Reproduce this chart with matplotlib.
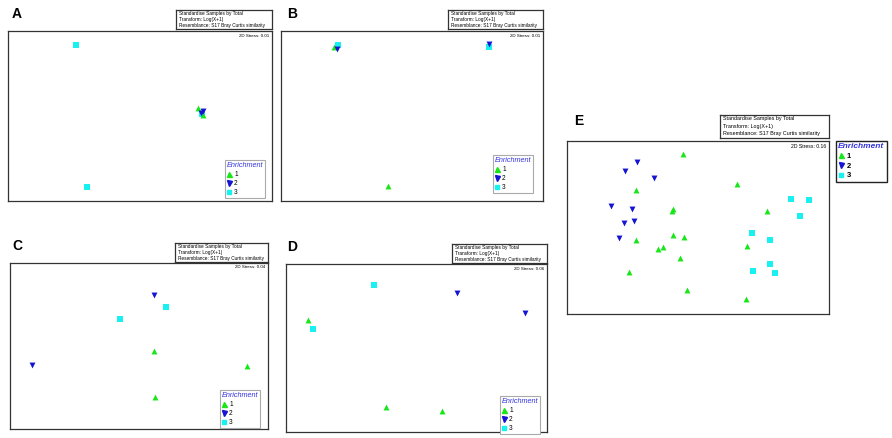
import numpy as np
import matplotlib.pyplot as plt
from matplotlib.lines import Line2D

plt.rcParams["font.family"] = ["Liberation Sans", "DejaVu Sans"]

# NMDS ordination coordinates (scaled 0-1 within each plot box), per enrichment group
a_x1 = [0.720, 0.739]; a_y1 = [0.547, 0.506]
a_x2 = [0.731, 0.739]; a_y2 = [0.518, 0.529]
a_x3 = [0.258, 0.299, 0.735]; a_y3 = [0.918, 0.082, 0.512]

b_x1 = [0.202, 0.408]; b_y1 = [0.906, 0.088]
b_x2 = [0.214, 0.794]; b_y2 = [0.894, 0.924]
b_x3 = [0.218, 0.794]; b_y3 = [0.918, 0.906]

c_x1 = [0.558, 0.919, 0.562]; c_y1 = [0.470, 0.380, 0.193]
c_x2 = [0.558, 0.085]; c_y2 = [0.807, 0.386]
c_x3 = [0.605, 0.426]; c_y3 = [0.735, 0.663]

d_x1 = [0.084, 0.383, 0.598]; d_y1 = [0.667, 0.149, 0.125]
d_x2 = [0.655, 0.916]; d_y2 = [0.827, 0.708]
d_x3 = [0.337, 0.103]; d_y3 = [0.875, 0.613]

e_x1 = [0.443, 0.649, 0.262, 0.406, 0.401, 0.762, 0.406, 0.445,
        0.263, 0.366, 0.348, 0.687, 0.431, 0.237, 0.458, 0.684]
e_y1 = [0.923, 0.751, 0.715, 0.609, 0.597, 0.597, 0.457, 0.447,
        0.429, 0.389, 0.374, 0.393, 0.325, 0.241, 0.139, 0.085]
e_x2 = [0.268, 0.220, 0.332, 0.168, 0.248, 0.256, 0.216, 0.200]
e_y2 = [0.877, 0.827, 0.786, 0.623, 0.605, 0.538, 0.528, 0.439]
e_x3 = [0.854, 0.924, 0.890, 0.707, 0.776, 0.776, 0.710, 0.793]
e_y3 = [0.666, 0.661, 0.565, 0.468, 0.426, 0.291, 0.247, 0.237]

stress = {"A": 0.01, "B": 0.01, "C": 0.04, "D": 0.06, "E": 0.16}
header_lines = ["Standardise Samples by Total", "Transform: Log(X+1)",
                "Resemblance: S17 Bray Curtis similarity"]
groups = ["1", "2", "3"]

green = "#19e619"
blue = "#1414d2"
cyan = "#19f0f0"

W, H = 892, 438
fig = plt.figure(figsize=(W / 100, H / 100), dpi=100)


def px_axes(x0, y0, x1, y1):
    # pixel box (top-left origin) -> figure axes
    return fig.add_axes([x0 / W, 1 - y1 / H, (x1 - x0) / W, (y1 - y0) / H])


# panel layout in pixels: plot box, header box, legend top-left, label position
panels = [
    ("A", (8, 31, 272, 201), (176, 10, 272, 29), (225, 160), (12, 18),
     (a_x1, a_y1, a_x2, a_y2, a_x3, a_y3), 3.4, 5.2),
    ("B", (281, 31, 543, 201), (448, 10, 543, 29), (493, 155), (287, 18),
     (b_x1, b_y1, b_x2, b_y2, b_x3, b_y3), 3.4, 5.2),
    ("C", (10, 263, 268, 429), (175, 243, 268, 262), (220, 390), (12, 250),
     (c_x1, c_y1, c_x2, c_y2, c_x3, c_y3), 3.4, 5.2),
    ("D", (286, 264, 547, 432), (452, 244, 547, 263), (500, 396), (287, 251),
     (d_x1, d_y1, d_x2, d_y2, d_x3, d_y3), 3.4, 5.2),
    ("E", (567, 141, 829, 314), (720, 115, 829, 138), (836, 141), (574, 125),
     (e_x1, e_y1, e_x2, e_y2, e_x3, e_y3), 3.9, 6.0),
]

for name, box, hbox, leg_pos, lab_pos, pts, hfs, lfs in panels:
    ax = px_axes(*box)
    x1, y1, x2, y2, x3, y3 = pts
    ax.scatter(x3, y3, marker="s", s=15, color=cyan, linewidths=0, zorder=3)
    ax.scatter(x1, y1, marker="^", s=18, color=green, linewidths=0, zorder=4)
    ax.scatter(x2, y2, marker="v", s=18, color=blue, linewidths=0, zorder=5)
    ax.set_xlim(0, 1)
    ax.set_ylim(0, 1)
    ax.set_xticks([])
    ax.set_yticks([])
    for sp in ax.spines.values():
        sp.set_linewidth(0.9)
        sp.set_color("#333333")
    ax.text(0.99, 0.985, "2D Stress: %.2f" % stress[name], transform=ax.transAxes,
            ha="right", va="top", fontsize=hfs - 0.2)

    # header box with the resemblance info
    hax = px_axes(*hbox)
    hax.set_xticks([])
    hax.set_yticks([])
    for sp in hax.spines.values():
        sp.set_linewidth(0.9)
        sp.set_color("#333333")
    for i, line in enumerate(header_lines):
        hax.text(0.03, 0.84 - i * 0.33, line, transform=hax.transAxes,
                 ha="left", va="center", fontsize=hfs)

    # panel letter
    fig.text(lab_pos[0] / W, 1 - lab_pos[1] / H, name, fontsize=10,
             fontweight="bold", ha="left", va="baseline")

    # legend
    handles = [
        Line2D([], [], marker="^", color=green, linestyle="none", markersize=3.6),
        Line2D([], [], marker="v", color=blue, linestyle="none", markersize=3.6),
        Line2D([], [], marker="s", color=cyan, linestyle="none", markersize=3.2),
    ]
    weight = "bold" if name == "E" else "normal"
    leg = ax.legend(handles, groups, title="Enrichment", loc="upper left",
                    bbox_to_anchor=(leg_pos[0] / W, 1 - leg_pos[1] / H),
                    bbox_transform=fig.transFigure, borderaxespad=0,
                    prop={"size": lfs - 0.5, "weight": weight},
                    title_fontproperties={"size": lfs, "style": "italic",
                                          "weight": weight},
                    fancybox=False, handlelength=0.7, handletextpad=0.4,
                    labelspacing=0.3, borderpad=0.3, framealpha=1)
    leg.get_title().set_color("#3333dd")
    leg._legend_box.align = "left"
    frame = leg.get_frame()
    if name == "E":
        frame.set_edgecolor("#222222")
        frame.set_linewidth(1.0)
    else:
        frame.set_edgecolor("#aaaaaa")
        frame.set_linewidth(0.8)

fig.savefig("out.png", dpi=100)
